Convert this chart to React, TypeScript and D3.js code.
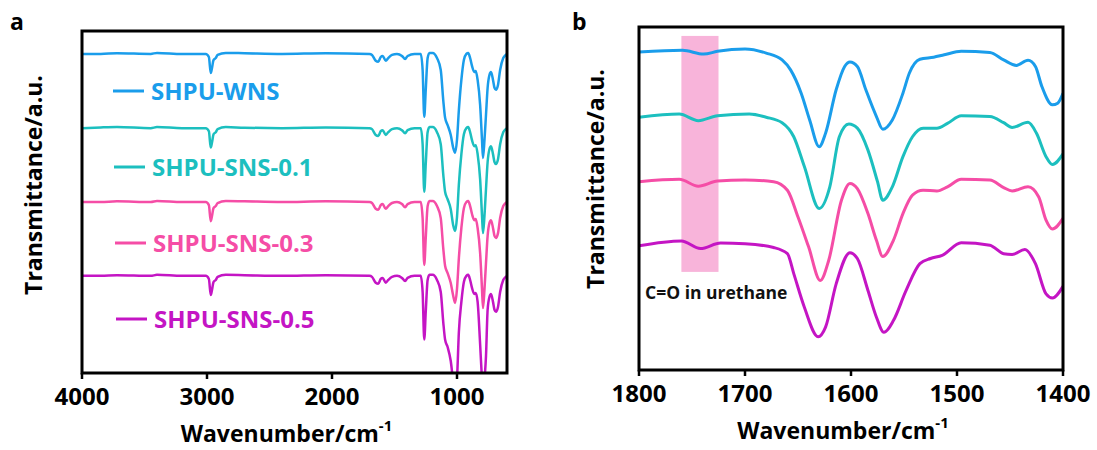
import React from "react";
import * as d3 from "d3";

// ---------- Panel a data (full spectrum) ----------
const WN_A = [4000, 3850, 3720, 3450, 3400, 3200, 3010, 2985, 2970, 2960, 2948, 2930, 2915, 2850, 2700, 2400, 2050, 1700, 1680, 1650, 1630, 1610, 1595, 1570, 1550, 1520, 1480, 1440, 1415, 1395, 1340, 1290, 1275, 1262, 1250, 1235, 1220, 1195, 1160, 1130, 1110, 1095, 1075, 1050, 1030, 1015, 1000, 985, 965, 945, 925, 910, 895, 880, 862, 850, 835, 815, 800, 792, 780, 768, 755, 740, 728, 712, 700, 688, 672, 655, 630, 610, 600];

const A_WNS = [93.3, 93.3, 93.5, 93.3, 93.6, 93.3, 93.3, 92.4, 87.7, 89.2, 91.5, 92.1, 93.0, 93.6, 93.5, 93.3, 93.5, 93.3, 93.0, 91.3, 91.0, 92.4, 92.7, 91.3, 92.1, 93.0, 93.3, 92.7, 91.8, 92.7, 93.3, 93.3, 88.6, 74.9, 82.8, 92.1, 93.6, 93.6, 92.1, 88.6, 79.8, 74.6, 72.5, 69.6, 65.8, 64.4, 68.2, 76.9, 85.7, 91.5, 93.3, 93.6, 92.1, 89.8, 88.0, 88.3, 85.7, 78.4, 68.2, 62.9, 68.2, 75.5, 83.4, 87.2, 88.0, 85.7, 83.4, 82.8, 84.2, 88.6, 92.1, 93.0, 93.3];
const A_SNS01 = [71.6, 71.8, 71.9, 71.6, 71.9, 71.6, 71.6, 70.7, 65.9, 67.4, 69.8, 70.4, 71.3, 71.9, 71.7, 71.6, 71.8, 71.6, 71.3, 69.6, 69.3, 70.7, 71.0, 69.6, 70.4, 71.3, 71.6, 71.0, 70.1, 71.0, 71.6, 71.6, 66.9, 53.0, 61.1, 70.4, 71.9, 71.9, 70.4, 66.9, 58.1, 52.9, 50.8, 47.9, 43.1, 41.5, 45.6, 55.2, 64.0, 69.8, 71.6, 71.9, 70.4, 68.1, 66.3, 66.6, 64.0, 56.7, 46.1, 40.9, 46.1, 53.8, 61.7, 65.5, 66.3, 64.0, 61.7, 61.1, 62.5, 66.9, 70.4, 71.3, 71.6];
const A_SNS03 = [50.0, 50.0, 50.2, 50.0, 50.3, 50.0, 50.0, 49.1, 44.4, 45.9, 48.2, 48.8, 49.7, 50.3, 50.2, 50.0, 50.2, 50.0, 49.7, 48.0, 47.7, 49.1, 49.4, 48.0, 48.8, 49.7, 50.0, 49.4, 48.5, 49.4, 50.0, 50.0, 45.3, 31.6, 39.5, 48.8, 50.3, 50.3, 48.8, 45.3, 36.5, 31.3, 29.2, 26.3, 22.5, 20.5, 24.6, 33.6, 42.4, 48.2, 50.0, 50.3, 48.8, 46.5, 44.7, 45.0, 42.4, 35.1, 24.6, 19.0, 24.6, 32.2, 40.1, 43.9, 44.7, 42.4, 40.1, 39.5, 40.9, 45.3, 48.8, 49.7, 50.0];
const A_SNS05 = [28.4, 28.4, 28.6, 28.4, 28.7, 28.4, 28.4, 27.5, 22.8, 24.3, 26.6, 27.2, 28.1, 28.7, 28.6, 28.4, 28.6, 28.4, 28.1, 26.4, 26.1, 27.5, 27.8, 26.4, 27.2, 28.1, 28.4, 27.8, 26.9, 27.8, 28.4, 28.4, 23.7, 9.8, 17.9, 27.2, 28.7, 28.7, 27.2, 23.7, 14.9, 9.7, 7.6, 3.5, -2.6, -5.6, -1.6, 12.0, 20.8, 26.6, 28.4, 28.7, 27.2, 24.9, 23.1, 23.4, 20.8, 8.4, -2.0, -6.6, -2.0, 5.0, 18.5, 22.3, 23.1, 20.8, 18.5, 17.9, 19.3, 23.7, 27.2, 28.1, 28.4];

// ---------- Panel b data (1800-1400 zoom) ----------
const B_WNS_WN = [1800, 1759, 1739, 1726, 1700, 1680, 1665, 1657, 1647, 1639, 1630, 1624, 1614, 1606, 1601, 1594, 1586, 1576, 1570, 1561, 1551, 1545, 1535, 1522, 1512, 1496, 1469, 1456, 1444, 1433, 1426, 1420, 1410, 1405, 1400];
const B_WNS = [92.7, 93.2, 92.1, 92.9, 93.6, 92.4, 90.4, 87.5, 80.7, 72.9, 65.1, 69.0, 81.7, 88.5, 89.8, 88.5, 81.7, 73.9, 70.2, 72.9, 80.7, 86.5, 90.6, 91.2, 91.9, 92.9, 92.6, 90.4, 88.8, 90.3, 88.5, 82.7, 77.3, 77.8, 80.7];

const B_SNS01_WN = [1800, 1762, 1744, 1726, 1696, 1680, 1665, 1654, 1644, 1630, 1620, 1611, 1602, 1594, 1584, 1575, 1570, 1561, 1551, 1542, 1532, 1519, 1509, 1496, 1469, 1456, 1448, 1433, 1425, 1416, 1410, 1400];
const B_SNS01 = [73.7, 74.6, 72.7, 74.1, 74.6, 73.7, 72.1, 68.0, 59.3, 47.1, 53.4, 68.0, 71.7, 70.5, 64.1, 54.9, 49.5, 53.4, 62.2, 68.0, 70.5, 70.5, 71.9, 74.1, 73.9, 72.1, 70.7, 72.2, 69.0, 62.2, 59.9, 63.0];

const B_SNS03_WN = [1800, 1762, 1744, 1726, 1700, 1673, 1660, 1650, 1640, 1629, 1621, 1609, 1601, 1594, 1584, 1576, 1570, 1560, 1551, 1542, 1532, 1519, 1509, 1496, 1469, 1456, 1448, 1433, 1423, 1416, 1410, 1400];
const B_SNS03 = [54.9, 55.6, 53.6, 55.1, 55.4, 54.9, 52.4, 44.6, 35.9, 26.1, 32.0, 49.5, 54.4, 52.9, 45.6, 37.8, 33.1, 37.8, 45.6, 51.0, 52.4, 52.2, 53.4, 55.6, 55.4, 53.2, 52.2, 53.4, 50.5, 43.7, 41.1, 44.2];

const B_SNS05_WN = [1800, 1760, 1742, 1723, 1700, 1673, 1660, 1654, 1644, 1631, 1624, 1614, 1601, 1594, 1584, 1576, 1569, 1560, 1548, 1535, 1525, 1514, 1496, 1469, 1456, 1448, 1436, 1426, 1416, 1410, 1400];
const B_SNS05 = [36.2, 37.6, 35.4, 37.0, 36.8, 35.7, 33.9, 28.1, 18.3, 9.7, 12.5, 25.1, 34.2, 32.5, 23.2, 15.4, 11.0, 14.4, 23.2, 31.0, 32.5, 33.4, 37.1, 36.4, 33.9, 33.7, 35.1, 31.0, 22.2, 21.0, 24.4];

const SERIES_NAMES = ["SHPU-WNS", "SHPU-SNS-0.1", "SHPU-SNS-0.3", "SHPU-SNS-0.5"];
const SERIES_COLORS = ["#1A9DEB", "#1CBFBF", "#F54DA6", "#C415C4"];

const TICKS_A = [4000, 3000, 2000, 1000];
const TICKS_B = [1800, 1700, 1600, 1500, 1400];

const BAND_WN = [1760, 1725];
const BAND_T = [28.6, 97.4];
const ANNOTATION = "C=O in urethane";

const FONT = "'Open Sans', 'DejaVu Sans', sans-serif";

function zip(xs: number[], ys: number[]): [number, number][] {
  return xs.map((x, i) => [x, ys[i]]);
}

type PanelProps = {
  id: string;
  letter: string;
  letterX: number;
  x0: number;
  x1: number;
  y0: number;
  y1: number;
  domain: [number, number];
  ticks: number[];
  series: [number, number][][];
  strokeW: number;
  yTitleX: number;
  yTitleY: number;
  children?: (x: d3.ScaleLinear<number, number>, y: d3.ScaleLinear<number, number>) => React.ReactNode;
};

function Panel(p: PanelProps) {
  const x = d3.scaleLinear().domain(p.domain).range([p.x0, p.x1]);
  const y = d3.scaleLinear().domain([0, 100]).range([p.y1, p.y0]);
  const line = d3
    .line<[number, number]>()
    .x((d) => x(d[0]))
    .y((d) => y(d[1]))
    .curve(d3.curveMonotoneX);
  const cx = (p.x0 + p.x1) / 2;
  return (
    <g>
      <defs>
        <clipPath id={`clip-${p.id}`}>
          <rect x={p.x0} y={p.y0} width={p.x1 - p.x0} height={p.y1 - p.y0} />
        </clipPath>
      </defs>
      <g clipPath={`url(#clip-${p.id})`}>
        {p.children && p.children(x, y)}
        {p.series.map((s, i) => (
          <path
            key={i}
            d={line(s) || ""}
            fill="none"
            stroke={SERIES_COLORS[i]}
            strokeWidth={p.strokeW}
            strokeLinejoin="round"
          />
        ))}
      </g>
      <rect
        x={p.x0}
        y={p.y0}
        width={p.x1 - p.x0}
        height={p.y1 - p.y0}
        fill="none"
        stroke="#000"
        strokeWidth={3}
      />
      {p.ticks.map((t) => (
        <g key={t}>
          <line x1={x(t)} x2={x(t)} y1={p.y1} y2={p.y1 + 6} stroke="#000" strokeWidth={2.5} />
          <text
            x={x(t)}
            y={p.y1 + 32}
            textAnchor="middle"
            fontFamily={FONT}
            fontWeight={700}
            fontSize={24}
            fill="#000"
          >
            {t}
          </text>
        </g>
      ))}
      <text
        x={cx - 8}
        y={p.y1 + 69}
        textAnchor="middle"
        fontFamily={FONT}
        fontWeight={700}
        fontSize={23}
        fill="#000"
      >
        Wavenumber/cm
        <tspan fontSize={15} dy={-11}>-1</tspan>
      </text>
      <text
        transform={`translate(${p.yTitleX},${p.yTitleY}) rotate(-90)`}
        textAnchor="middle"
        fontFamily={FONT}
        fontWeight={700}
        fontSize={23}
        fill="#000"
      >
        Transmittance/a.u.
      </text>
      <text x={p.letterX} y={30} fontFamily={FONT} fontWeight={700} fontSize={23} fill="#000">
        {p.letter}
      </text>
    </g>
  );
}

export default function App() {
  const seriesA = [A_WNS, A_SNS01, A_SNS03, A_SNS05].map((v) => zip(WN_A, v));
  const seriesB = [
    zip(B_WNS_WN, B_WNS),
    zip(B_SNS01_WN, B_SNS01),
    zip(B_SNS03_WN, B_SNS03),
    zip(B_SNS05_WN, B_SNS05),
  ];
  const legendY0 = 91;
  const legendStep = 76;
  return (
    <svg width={1097} height={450} style={{ display: "block", position: "absolute", left: 0, top: 0 }}>
      <rect width={1097} height={450} fill="#fff" />
      <Panel
        id="a"
        letter="a"
        letterX={10}
        x0={82}
        x1={507}
        y0={31}
        y1={373}
        domain={[4000, 600]}
        ticks={TICKS_A}
        series={seriesA}
        strokeW={2.5}
        yTitleX={42}
        yTitleY={185}
      />
      {SERIES_NAMES.map((name, i) => {
        const ly = legendY0 + i * legendStep;
        return (
          <g key={name}>
            <line x1={113 + i} x2={144 + i} y1={ly} y2={ly} stroke={SERIES_COLORS[i]} strokeWidth={3} />
            <text
              x={151 + i}
              y={ly + 9}
              fontFamily={FONT}
              fontWeight={700}
              fontSize={24}
              fill={SERIES_COLORS[i]}
            >
              {name}
            </text>
          </g>
        );
      })}
      <Panel
        id="b"
        letter="b"
        letterX={572}
        x0={639}
        x1={1063}
        y0={27}
        y1={370}
        domain={[1800, 1400]}
        ticks={TICKS_B}
        series={seriesB}
        strokeW={3}
        yTitleX={604}
        yTitleY={179}
      >
        {(x, y) => (
          <rect
            x={x(BAND_WN[0])}
            y={y(BAND_T[1])}
            width={x(BAND_WN[1]) - x(BAND_WN[0])}
            height={y(BAND_T[0]) - y(BAND_T[1])}
            fill="#F8B4DA"
          />
        )}
      </Panel>
      <text x={645} y={299} fontFamily={FONT} fontWeight={700} fontSize={17.5} fill="#111">
        {ANNOTATION}
      </text>
    </svg>
  );
}
